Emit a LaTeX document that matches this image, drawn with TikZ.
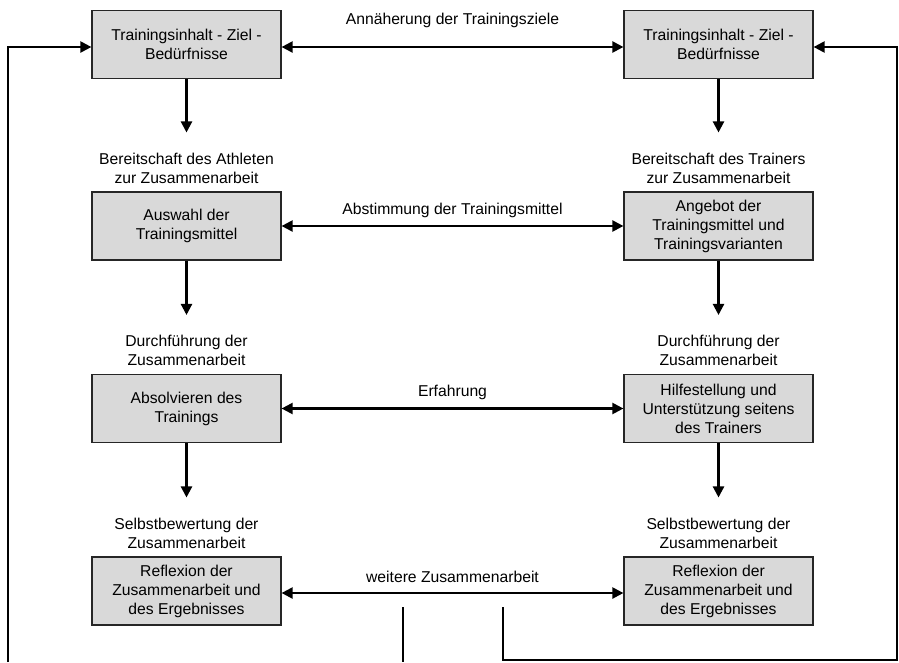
\documentclass[tikz,border=0pt]{standalone}
\usepackage{fontspec}
\setmainfont{Liberation Sans}
\usetikzlibrary{positioning,arrows.meta}

\tikzset{
  box/.style={draw=black!85,line width=1.2pt,fill=black!15,minimum width=189pt,minimum height=68pt,align=center,inner sep=0pt,font=\fontsize{15.7}{19}\selectfont},
  lbl/.style={align=center,inner sep=0pt,font=\fontsize{15.7}{19}\selectfont},
  ln/.style={line width=2.2pt},
  arr/.style={ln,-{Triangle[length=11pt,width=11pt]}},
  both/.style={ln,{Triangle[length=11pt,width=11pt]}-{Triangle[length=11pt,width=11pt]}}
}

\begin{document}
\begin{tikzpicture}[x=1pt,y=1pt]
\useasboundingbox (0,0) rectangle (899,-662);

% Athlet (links) und Trainer (rechts)
\node[box] (l1) at (186.5,-44.5) {Trainingsinhalt - Ziel -\\Bedürfnisse};
\node[box] (r1) at (718.5,-44.5) {Trainingsinhalt - Ziel -\\Bedürfnisse};
\node[box] (l2) at (186.5,-226) {Auswahl der\\Trainingsmittel};
\node[box] (r2) at (718.5,-226) {Angebot der\\Trainingsmittel und\\Trainingsvarianten};
\node[box] (l3) at (186.5,-408.5) {Absolvieren des\\Trainings};
\node[box] (r3) at (718.5,-408.5) {Hilfestellung und\\Unterstützung seitens\\des Trainers};
\node[box] (l4) at (186.5,-591) {Reflexion der\\Zusammenarbeit und\\des Ergebnisses};
\node[box] (r4) at (718.5,-591) {Reflexion der\\Zusammenarbeit und\\des Ergebnisses};

\node[lbl,above=8pt of l2] (la2) {Bereitschaft des Athleten\\zur Zusammenarbeit};
\node[lbl,above=8pt of r2] (ra2) {Bereitschaft des Trainers\\zur Zusammenarbeit};
\node[lbl,above=8pt of l3] (la3) {Durchführung der\\Zusammenarbeit};
\node[lbl,above=8pt of r3] (ra3) {Durchführung der\\Zusammenarbeit};
\node[lbl,above=8pt of l4] (la4) {Selbstbewertung der\\Zusammenarbeit};
\node[lbl,above=8pt of r4] (ra4) {Selbstbewertung der\\Zusammenarbeit};

% Pfeile nach unten
\foreach \s in {l,r}{
  \draw[arr] (\s1) -- ([yshift=20pt]\s a2.north);
  \draw[arr] (\s2) -- ([yshift=20pt]\s a3.north);
  \draw[arr] (\s3) -- ([yshift=20pt]\s a4.north);
}

% Abstimmung zwischen beiden Seiten
\draw[both] (l1.east |- 0,-47) -- (r1.west |- 0,-47) node[lbl,midway,above=18pt] (m1) {Annäherung der Trainingsziele};
\draw[both] (l2) -- (r2) node[lbl,midway,above=7pt] (m2) {Abstimmung der Trainingsmittel};
\draw[both] (l3) -- (r3) node[lbl,midway,above=8pt] (m3) {Erfahrung};
\draw[both] (l4.east |- 0,-593) -- (r4.west |- 0,-593) node[lbl,midway,above=9pt] (m4) {weitere Zusammenarbeit};

% Rueckfuehrung
\coordinate (a1) at (8,-662);
\coordinate (a2) at (8,-47);
\coordinate (b1) at (403,-607);
\coordinate (b2) at (403,-662);
\coordinate (c1) at (503,-607);
\coordinate (c2) at (503,-660);
\coordinate (c3) at (897,-660);
\coordinate (c4) at (897,-47);
\draw[arr] (a1) -- (a2) -- (a2 -| l1.west);
\draw[ln] (b1) -- (b2);
\draw[arr] (c1) -- (c2) -- (c3) -- (c4) -- (c4 -| r1.east);
\end{tikzpicture}
\end{document}
